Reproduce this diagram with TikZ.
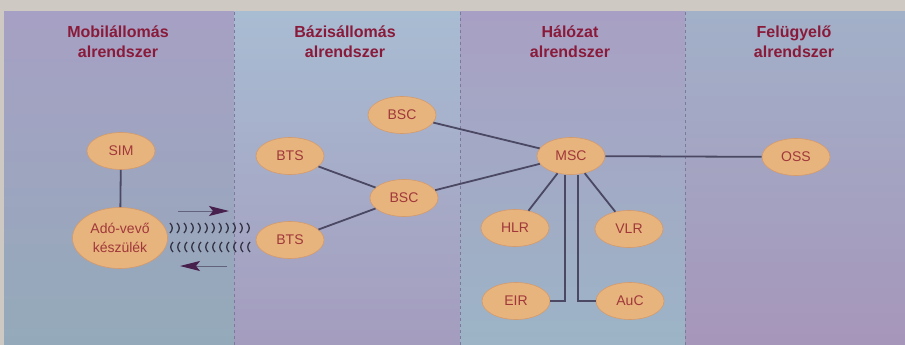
\documentclass[tikz,border=0pt]{standalone}
\usepackage{fontspec}
\setmainfont{Liberation Sans}
\usetikzlibrary{shapes.geometric,arrows.meta}

\definecolor{topband}{HTML}{CEC9C2}
\definecolor{nodefill}{HTML}{E8B47E}
\definecolor{nodeedge}{HTML}{D49A6A}
\definecolor{nodetext}{HTML}{A0383A}
\definecolor{headred}{HTML}{8A1A3A}
\definecolor{linkgray}{HTML}{4A4862}
\definecolor{sepgray}{HTML}{7C7A9C}
\definecolor{sigdark}{HTML}{48204E}

\begin{document}
\begin{tikzpicture}[x=1pt,y=-1pt,
    unit/.style={ellipse, fill=nodefill, draw=nodeedge, line width=0.6pt,
        minimum width=68pt, minimum height=37pt, inner sep=0pt,
        font=\fontsize{14}{19}\selectfont, text=nodetext, align=center},
    link/.style={draw=linkgray, line width=1.8pt},
    heading/.style={font=\fontsize{16}{20}\selectfont\bfseries, text=headred, align=center},
    sig/.style={draw=sepgray!80!black, line width=1pt, -{Stealth[length=20pt,width=10pt,inset=4pt,color=sigdark]}},
    wave/.style={draw=linkgray!70!black, line width=1.3pt}]
    \useasboundingbox (0,0) rectangle (905,345);

    % background columns
    \fill[topband] (0,0) rectangle (905,12);
    \fill[topband] (0,12) rectangle (4,345);
    \shade[top color={rgb,255:red,166;green,160;blue,196}, bottom color={rgb,255:red,148;green,170;blue,186}] (4,12) rectangle (234,345);
    \shade[top color={rgb,255:red,168;green,188;blue,210}, bottom color={rgb,255:red,164;green,156;blue,190}] (234,12) rectangle (460,345);
    \shade[top color={rgb,255:red,168;green,160;blue,196}, bottom color={rgb,255:red,156;green,180;blue,198}] (460,12) rectangle (685,345);
    \shade[top color={rgb,255:red,162;green,176;blue,200}, middle color={rgb,255:red,158;green,166;blue,192}, bottom color={rgb,255:red,166;green,150;blue,186}] (685,12) rectangle (905,345);
    \draw[sepgray, dashed, line width=0.8pt] (234,12) -- (234,345);
    \draw[sepgray, dashed, line width=0.8pt] (460,12) -- (460,345);
    \draw[sepgray, dashed, line width=0.8pt] (685,12) -- (685,345);

    % headings
    \node[heading] (hmobil) at (118,42) {Mobilállomás\\alrendszer};
    \node[heading] (hbazis) at (345,42) {Bázisállomás\\alrendszer};
    \node[heading] (hhalo) at (570,42) {Hálózat\\alrendszer};
    \node[heading] (hfelu) at (794,42) {Felügyelő\\alrendszer};

    % units
    \node[unit] (sim) at (121,151) {SIM};
    \node[unit, minimum width=95pt, minimum height=61pt] (adovevo) at (120,238) {Adó-vevő\\készülék};
    \node[unit] (btsa) at (290,156) {BTS};
    \node[unit] (btsb) at (290,240) {BTS};
    \node[unit] (bsca) at (402,115) {BSC};
    \node[unit] (bscb) at (404,198) {BSC};
    \node[unit] (msc) at (571,156) {MSC};
    \node[unit] (oss) at (796,157) {OSS};
    \node[unit] (hlr) at (515,228) {HLR};
    \node[unit] (vlr) at (629,229) {VLR};
    \node[unit] (eir) at (516,301) {EIR};
    \node[unit] (auc) at (630,301) {AuC};

    % links
    \draw[link] (sim) -- (adovevo);
    \draw[link] (btsa) -- (bscb);
    \draw[link] (btsb) -- (bscb);
    \draw[link] (bsca) -- (msc);
    \draw[link] (bscb) -- (msc);
    \draw[link] (msc) -- (oss);
    \draw[link] (msc) -- (hlr);
    \draw[link] (msc) -- (vlr);
    \draw[link] ([xshift=-6pt]msc.south) |- (eir);
    \draw[link] ([xshift=7pt]msc.south) |- (auc);

    % radio link
    \coordinate (upfrom) at (178,211);
    \coordinate (upto) at (229,211);
    \coordinate (downfrom) at (227,266);
    \coordinate (downto) at (180,266);
    \draw[sig] (upfrom) -- (upto);
    \draw[sig] (downfrom) -- (downto);
    \foreach \wx in {170,177,...,247} {
        \draw[wave] (\wx,223) .. controls (\wx+3,226) and (\wx+3,230) .. (\wx,233);
        \draw[wave] (\wx+3,242) .. controls (\wx,245) and (\wx,249) .. (\wx+3,252);
    }
\end{tikzpicture}
\end{document}
